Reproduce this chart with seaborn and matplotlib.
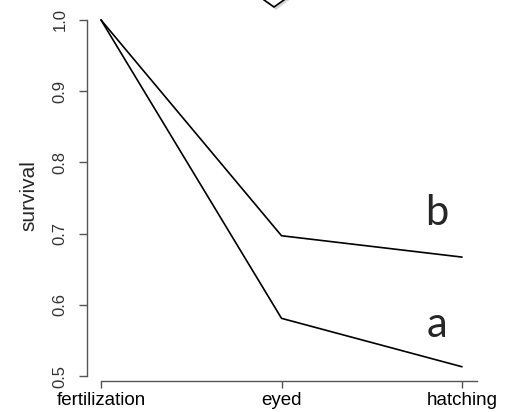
import pandas as pd
import matplotlib
matplotlib.use("Agg")
import matplotlib.pyplot as plt
from matplotlib.patches import Polygon
import seaborn as sns

# stages and survival
stages = ["fertilization", "eyed", "hatching"]
survival_a = [1.0, 0.581, 0.513]
survival_b = [1.0, 0.697, 0.667]
y_ticks = [0.5, 0.6, 0.7, 0.8, 0.9, 1.0]

df = pd.DataFrame({
    "stage": stages * 2,
    "survival": survival_a + survival_b,
    "group": ["a"] * 3 + ["b"] * 3,
})

sns.set_style("ticks")
plt.rcParams["font.family"] = ["Liberation Sans", "DejaVu Sans"]

fig = plt.figure(figsize=(5.12, 4.12), dpi=100)
ax = fig.add_axes([87 / 512, 1 - 381 / 412, (490 - 87) / 512, (381 - 10) / 412])

sns.lineplot(data=df, x="stage", y="survival", hue="group",
             palette=["black", "black"], linewidth=1.2, legend=False, ax=ax)

ax.set_xlim(-0.0776, 2.155)
ax.set_ylim(0.493, 1.014)
ax.set_yticks(y_ticks)
ax.set_yticklabels([f"{v:.1f}" for v in y_ticks], rotation=90, va="center",
                   fontsize=12, color="#333333")
ax.tick_params(axis="x", labelsize=13.5, colors="#555555", labelcolor="black",
               length=5, width=1, pad=3)
ax.tick_params(axis="y", colors="#555555", labelcolor="#333333", length=6,
               width=1, pad=8)
ax.set_xlabel("")
ax.set_ylabel("survival", fontsize=15, labelpad=10)

for side in ["top", "right"]:
    ax.spines[side].set_visible(False)
ax.spines["left"].set_bounds(0.5, 1.0)
ax.spines["bottom"].set_bounds(0, 2.083)
for side in ["left", "bottom"]:
    ax.spines[side].set_color("#555555")
    ax.spines[side].set_linewidth(1)

# group letters
ax.text(1.86, 0.712, "b", fontsize=30, family="Lato", ha="center", va="baseline")
ax.text(1.86, 0.555, "a", fontsize=30, family="Lato", ha="center", va="baseline")

# diamond shape cut off at the top edge
def px(x, y):
    return (x / 512, 1 - y / 412)

shadow = Polygon([px(252, -8), px(276, 10), px(300, -8), px(276, -26)],
                 closed=True, transform=fig.transFigure, facecolor="#bbbbbb",
                 edgecolor="none", alpha=0.6)
diamond = Polygon([px(250, -10), px(274, 7), px(298, -10), px(274, -27)],
                  closed=True, transform=fig.transFigure, facecolor="white",
                  edgecolor="black", linewidth=1.2)
fig.patches.extend([shadow, diamond])

fig.savefig("out.png", dpi=100)
